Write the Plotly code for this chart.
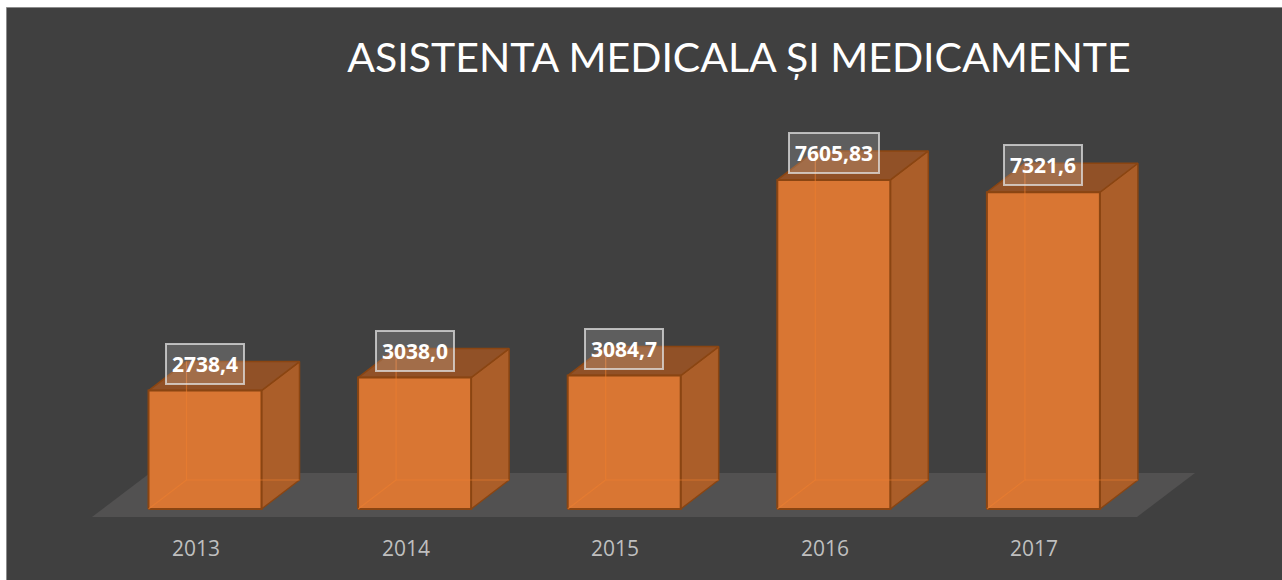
import plotly.graph_objects as go

# ---- data ----
years = ["2013", "2014", "2015", "2016", "2017"]
values = [2738.4, 3038.0, 3084.7, 7605.83, 7321.6]
labels = ["2738,4", "3038,0", "3084,7", "7605,83", "7321,6"]
title_text = "ASISTENTA MEDICALA ȘI MEDICAMENTE"

# ---- geometry (layout / style constants) ----
W, H = 1282, 580
X0_PX, STEP_PX = 205.0, 209.6     # pixel of first category centre, category spacing
BASE_PX, Y_SCALE = 509.0, 0.04326  # baseline pixel row, px per value unit
ux = 1.0 / STEP_PX                # category units per pixel
uy = 1.0 / Y_SCALE                # value units per pixel

half_w = 56.5 * ux
dx, dy = 38 * ux, 29 * uy
x_range = [(-X0_PX) * ux, (W - X0_PX) * ux]
y_range = [-(H - BASE_PX) * uy, BASE_PX * uy]

FRONT = "#D97633"
SIDE = "#AB5E29"
TOP = "rgba(150,82,38,0.95)"
EDGE = "#8A4512"
BG = "#404040"
FLOOR = "#525151"

fig = go.Figure()

# floor
fl_y0, fl_y1 = -8 * uy, 36 * uy
fl_xl, fl_xr = (92 - X0_PX) * ux, (1137 - X0_PX) * ux
fl_dx = 58 * ux
fig.add_trace(go.Scatter(
    x=[fl_xl, fl_xr, fl_xr + fl_dx, fl_xl + fl_dx, fl_xl],
    y=[fl_y0, fl_y0, fl_y1, fl_y1, fl_y0],
    fill="toself", fillcolor=FLOOR, line=dict(width=0), mode="lines",
    hoverinfo="skip", showlegend=False))

for i, v in enumerate(values):
    xl, xr = i - half_w, i + half_w
    # side face
    fig.add_trace(go.Scatter(
        x=[xr, xr + dx, xr + dx, xr, xr], y=[0, dy, v + dy, v, 0],
        fill="toself", fillcolor=SIDE, mode="lines",
        line=dict(color=EDGE, width=1.5), hoverinfo="skip", showlegend=False))
    # top face
    fig.add_trace(go.Scatter(
        x=[xl, xr, xr + dx, xl + dx, xl], y=[v, v, v + dy, v + dy, v],
        fill="toself", fillcolor=TOP, mode="lines",
        line=dict(color=EDGE, width=1.5), hoverinfo="skip", showlegend=False))
    # front face
    fig.add_trace(go.Scatter(
        x=[xl, xr, xr, xl, xl], y=[0, 0, v, v, 0],
        fill="toself", fillcolor=FRONT, mode="lines",
        line=dict(color=EDGE, width=2), hoverinfo="skip", showlegend=False,
        name=years[i]))
    # faint hidden back edges (transparency look)
    fig.add_trace(go.Scatter(
        x=[xl, xl + dx, xl + dx, None, xl + dx, xr + dx],
        y=[0, dy, v + dy, None, dy, dy],
        mode="lines", line=dict(color="rgba(238,128,48,0.55)", width=1.2),
        hoverinfo="skip", showlegend=False))

# data labels
for i, v in enumerate(values):
    fig.add_annotation(
        x=i, y=v + 27 * uy, text="<b>%s</b>" % labels[i], showarrow=False,
        font=dict(family="Open Sans", size=21, color="white"),
        bgcolor="rgba(255,255,255,0.16)", bordercolor="rgba(225,225,225,0.75)",
        borderwidth=2, borderpad=5, xanchor="center", yanchor="middle")

# category labels
for i, yr in enumerate(years):
    fig.add_annotation(
        x=i - 9 * ux, y=-(548 - BASE_PX) * uy, text=yr, showarrow=False,
        font=dict(family="Open Sans", size=21, color="#BFBFBF"),
        xanchor="center", yanchor="middle")

# chart area border
fig.add_shape(type="rect", xref="paper", yref="paper",
              x0=6.5 / W, x1=1.2, y0=-0.2, y1=1 - 7.5 / H,
              line=dict(color="#8C8C8C", width=1), fillcolor=BG, layer="below")

fig.update_layout(
    width=W, height=H,
    margin=dict(l=0, r=0, t=0, b=0),
    paper_bgcolor="white", plot_bgcolor="rgba(0,0,0,0)",
    title=dict(text=title_text, x=739 / W, y=1 - 58 / H,
               xanchor="center", yanchor="middle",
               font=dict(family="Lato", size=41, color="white")),
    xaxis=dict(range=x_range, visible=False, fixedrange=True),
    yaxis=dict(range=y_range, visible=False, fixedrange=True),
    showlegend=False,
)

fig.write_html("out.html", config={"displayModeBar": False},
               post_script="document.body.style.margin='0';")
